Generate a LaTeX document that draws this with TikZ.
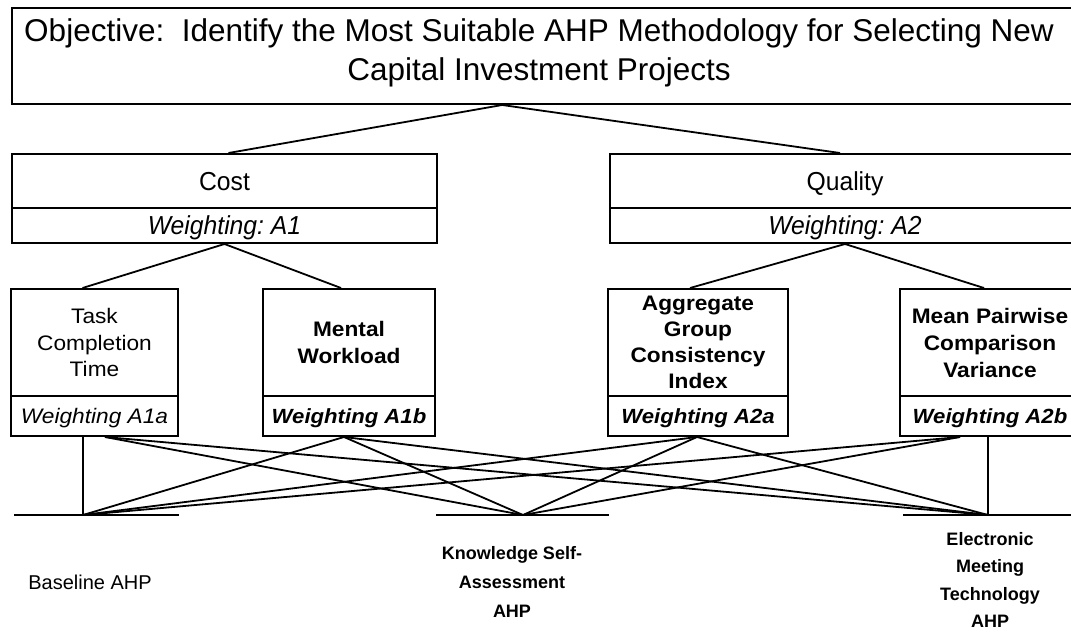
\documentclass[tikz,border=0pt]{standalone}
\usepackage{fontspec}
\setmainfont{Liberation Sans}
\newfontfamily\capfont[FakeStretch=0.95]{Liberation Sans}
\newfontfamily\subfont[FakeStretch=1.08]{Liberation Sans}
\usetikzlibrary{calc}
\frenchspacing
% text lowered inside its box without changing the box size
\newcommand{\lowtext}[1]{\raisebox{-3pt}[\height][\depth]{\strut #1}}
\begin{document}
\begin{tikzpicture}[x=1pt,y=-1pt,
  box/.style={draw, line width=2pt, inner sep=0pt, align=center},
  link/.style={line width=1.8pt},
  bar/.style={line width=1.4pt},
  head/.style={box, font=\capfont\fontsize{26}{30}\selectfont},
  headw/.style={head, font=\capfont\fontsize{26}{30}\selectfont\itshape},
  crit/.style={box, font=\subfont\fontsize{21}{26.5}\selectfont},
  critw/.style={box, font=\subfont\fontsize{21}{24}\selectfont\itshape},
  critb/.style={crit, font=\subfont\fontsize{21}{26.5}\selectfont\bfseries},
  critbw/.style={critw, font=\subfont\fontsize{20.5}{24}\selectfont\bfseries\itshape},
  alt/.style={align=center, font=\fontsize{18}{29}\selectfont\bfseries}]
\useasboundingbox (0,0) rectangle (1071,632);

% goal
\node[box, minimum width=1068pt, minimum height=96pt] (obj) at (546,56) {};
\node[align=center, inner sep=0pt, font=\fontsize{31.5}{39}\selectfont] (objt) at (539,53)
  {Objective:\ \ Identify the Most Suitable AHP Methodology for Selecting New\\
   Capital Investment Projects};

% main criteria
\node[head, minimum width=425pt, minimum height=54pt] (cost) at (224.5,181) {\lowtext{Cost}};
\node[headw, minimum width=425pt, minimum height=35pt] (costw) at (224.5,225.5) {\lowtext{Weighting: A1}};
\node[head, minimum width=470pt, minimum height=54pt] (qual) at (845,181) {\lowtext{Quality}};
\node[headw, minimum width=470pt, minimum height=35pt] (qualw) at (845,225.5) {\lowtext{Weighting: A2}};

% sub-criteria
\node[crit, minimum width=167pt, minimum height=107pt] (task) at (94.5,342.5)
  {Task\\Completion\\Time};
\node[critw, minimum width=167pt, minimum height=40pt] (taskw) at (94.5,416)
  {\lowtext{Weighting A1a}};
\node[critb, minimum width=172pt, minimum height=107pt] (ment) at (349,342.5)
  {Mental\\Workload};
\node[critbw, minimum width=172pt, minimum height=40pt] (mentw) at (349,416)
  {\lowtext{Weighting A1b}};
\node[critb, minimum width=180pt, minimum height=107pt, font=\subfont\fontsize{21}{26}\selectfont\bfseries] (aggr) at (698,342.5)
  {Aggregate\\Group\\Consistency\\Index};
\node[critbw, minimum width=180pt, minimum height=40pt] (aggrw) at (698,416)
  {\lowtext{Weighting A2a}};
\node[critb, minimum width=180pt, minimum height=107pt, font=\subfont\fontsize{21}{27}\selectfont\bfseries] (mean) at (990,342.5)
  {Mean Pairwise\\Comparison\\Variance};
\node[critbw, minimum width=180pt, minimum height=40pt] (meanw) at (990,416)
  {\lowtext{Weighting A2b}};

% alternatives
\coordinate (base) at (83,515);
\coordinate (know) at (523,515);
\coordinate (emt) at (988,515);
\draw[bar] (14,515) -- (base) -- (179,515);
\draw[bar] (436,515) -- (know) -- (609,515);
\draw[bar] (903,515) -- (emt) -- (1075,515);
\node[alt, font=\fontsize{20}{29}\selectfont] (baset) at (90,582) {Baseline AHP};
\node[alt] (knowt) at (512,582) {Knowledge Self-\\Assessment\\AHP};
\node[alt, font=\fontsize{18}{27.5}\selectfont\bfseries] (emtt) at (990,580) {Electronic\\Meeting\\Technology\\AHP};

% goal to criteria
\coordinate (objb) at ($(obj.south west)!0.459!(obj.south east)$);
\draw[link] (objb) -- ($(cost.north)+(4,0)$);
\draw[link] (objb) -- ($(qual.north)+(-5,0)$);
% criteria to sub-criteria
\draw[link] ($(task.north)+(-12,0)$) -- (costw.south) -- ($(ment.north)+(-8,0)$);
\draw[link] ($(aggr.north)+(-8,0)$) -- (qualw.south) -- ($(mean.north)+(-6,0)$);

% sub-criteria to alternatives
\coordinate (tA) at ($(taskw.south)+(-11.5,0)$);
\coordinate (tB) at ($(taskw.south)+(10.5,0)$);
\coordinate (mB) at ($(mentw.south)+(-5,0)$);
\coordinate (aB) at ($(aggrw.south)+(-1,0)$);
\coordinate (nA) at ($(meanw.south)+(-30,0)$);
\coordinate (nB) at ($(meanw.south)+(-2,0)$);
\draw[link] (tA) -- (base);
\draw[link] (tB) -- (know);
\draw[link] (tB) -- (emt);
\draw[link] (mB) -- (base);
\draw[link] (mB) -- (know);
\draw[link] (mB) -- (emt);
\draw[link] (aB) -- (base);
\draw[link] (aB) -- (know);
\draw[link] (aB) -- (emt);
\draw[link] (nA) -- (base);
\draw[link] (nA) -- (know);
\draw[link] (nB) -- (emt);
\end{tikzpicture}
\end{document}
